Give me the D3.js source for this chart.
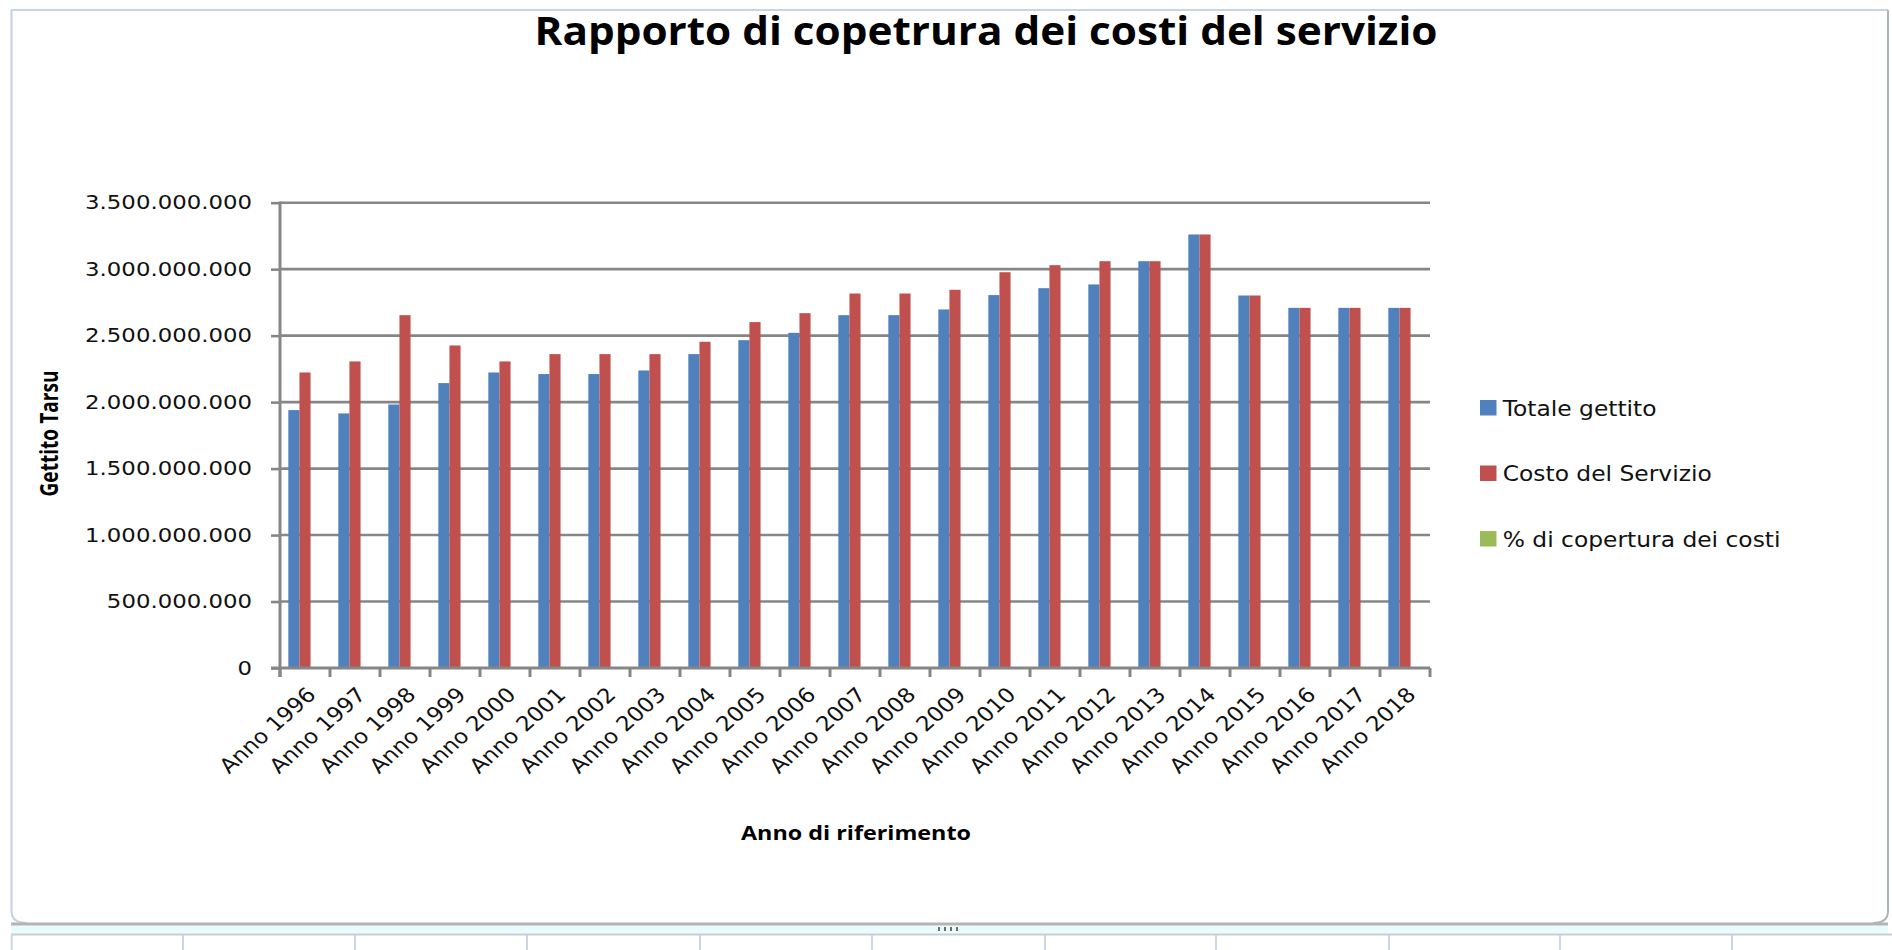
<!DOCTYPE html>
<html>
<head>
<meta charset="utf-8">
<script src="https://cdn.jsdelivr.net/npm/d3@7"></script>
<style>
  body { margin: 0; background: #fff; }
  svg { display: block; }
</style>
</head>
<body>
<div id="mainContainer"></div>
<script>
// anni di riferimento
var anni = ['Anno 1996', 'Anno 1997', 'Anno 1998', 'Anno 1999', 'Anno 2000', 'Anno 2001',
    'Anno 2002', 'Anno 2003', 'Anno 2004', 'Anno 2005', 'Anno 2006', 'Anno 2007',
    'Anno 2008', 'Anno 2009', 'Anno 2010', 'Anno 2011', 'Anno 2012', 'Anno 2013',
    'Anno 2014', 'Anno 2015', 'Anno 2016', 'Anno 2017', 'Anno 2018'];

var totaleGettito = [1940000000, 1915000000, 1982000000, 2143000000, 2223000000, 2211000000,
    2211000000, 2238000000, 2361000000, 2466000000, 2521000000, 2654000000,
    2654000000, 2697000000, 2805000000, 2857000000, 2885000000, 3060000000,
    3261000000, 2802000000, 2709000000, 2709000000, 2709000000];

var costoServizio = [2223000000, 2306000000, 2654000000, 2426000000, 2306000000, 2361000000,
    2361000000, 2361000000, 2454000000, 2602000000, 2669000000, 2817000000,
    2817000000, 2845000000, 2977000000, 3030000000, 3060000000, 3060000000,
    3261000000, 2802000000, 2709000000, 2709000000, 2709000000];

// percentuali: troppo piccole per vedersi sulla scala del grafico
var percCopertura = [87, 83, 75, 88, 96, 94, 94, 95, 96, 95, 94, 94,
    94, 95, 94, 94, 94, 100, 100, 100, 100, 100, 100];

var serie = ['Totale gettito', 'Costo del Servizio', '% di copertura dei costi'];
var colori = ['#4f81bd', '#c0504d', '#9bbb59'];
var yTicks = [0, 500000000, 1000000000, 1500000000, 2000000000, 2500000000, 3000000000, 3500000000];

var W = 1892, H = 950;
var pLeft = 280, pRight = 1430, pTop = 202.7, pBottom = 668;
var grigio = '#868686';

var svg = d3.select('#mainContainer').append('svg')
    .attr('width', W)
    .attr('height', H);

// allunga/stringe il testo fino alla larghezza voluta
function fitText(sel, w) {
    sel.attr('textLength', w).attr('lengthAdjust', 'spacingAndGlyphs');
}
function stretchText(sel, k) {
    sel.each(function() {
        var w = this.getComputedTextLength();
        d3.select(this).attr('textLength', w * k).attr('lengthAdjust', 'spacingAndGlyphs');
    });
}

// ---- cornice stile foglio excel ----
var frame = svg.append('g');
frame.append('line').attr('x1', 11).attr('x2', 1888).attr('y1', 10).attr('y2', 10)
    .attr('stroke', '#c9d3e2').attr('stroke-width', 2);
frame.append('path')
    .attr('d', 'M11.5,10 L11.5,911 Q11.5,923 27,923')
    .attr('fill', 'none').attr('stroke', '#c5d0e0').attr('stroke-width', 2);
frame.append('path')
    .attr('d', 'M1888,10 L1888,911 Q1888,923 1873,923')
    .attr('fill', 'none').attr('stroke', '#a9b7b7').attr('stroke-width', 2);
frame.append('rect').attr('x', 11).attr('y', 925.5).attr('width', 1877).attr('height', 8)
    .attr('fill', '#e9fbfb');
frame.append('line').attr('x1', 11).attr('x2', 1888).attr('y1', 924).attr('y2', 924)
    .attr('stroke', '#b4b4b4').attr('stroke-width', 3);
frame.append('line').attr('x1', 11).attr('x2', 1892).attr('y1', 934.5).attr('y2', 934.5)
    .attr('stroke', '#c6ced8').attr('stroke-width', 2);
var celle = [11.7, 183, 355, 527, 700, 872, 1045, 1216, 1389, 1560, 1732];
frame.selectAll('.cella').data(celle).enter().append('line')
    .attr('x1', function(d) { return d; }).attr('x2', function(d) { return d; })
    .attr('y1', 935).attr('y2', 950)
    .attr('stroke', '#cdd5e3').attr('stroke-width', 2);
frame.selectAll('.grip').data([0, 1, 2, 3]).enter().append('rect')
    .attr('x', function(d) { return 938 + d * 6; }).attr('y', 927)
    .attr('width', 2).attr('height', 4).attr('fill', '#6d6d6d');

// ---- scale ----
var xscale = d3.scaleBand().domain(anni).range([pLeft, pRight]).paddingInner(0).paddingOuter(0);
var xsub = d3.scaleBand().domain(serie).range([0, xscale.bandwidth()]).paddingInner(0).paddingOuter(0.75);
var yscale = d3.scaleLinear().domain([0, 3500000000]).range([pBottom, pTop]);

var itFormat = d3.formatLocale({ decimal: ',', thousands: '.', grouping: [3], currency: ['€', ''] }).format(',d');

var g = svg.append('g');

// griglia
g.selectAll('.grid').data(yTicks.slice(1)).enter().append('line')
    .attr('x1', pLeft).attr('x2', pRight)
    .attr('y1', function(d) { return yscale(d); })
    .attr('y2', function(d) { return yscale(d); })
    .attr('stroke', grigio).attr('stroke-width', 2.6);

// barre
var valori = [totaleGettito, costoServizio, percCopertura];
serie.forEach(function(s, si) {
    g.selectAll('.bar' + si).data(anni).enter().append('rect')
        .attr('x', function(d) { return xscale(d) + xsub(s); })
        .attr('y', function(d, i) { return yscale(valori[si][i]); })
        .attr('width', xsub.bandwidth())
        .attr('height', function(d, i) { return pBottom - yscale(valori[si][i]); })
        .attr('fill', colori[si]);
});

// asse y
var yAxis = g.append('g')
    .attr('transform', 'translate(' + pLeft + ',0)')
    .call(d3.axisLeft(yscale).tickValues(yTicks).tickSize(9).tickPadding(19).tickFormat(itFormat));
yAxis.select('.domain').remove();
yAxis.selectAll('.tick line').attr('stroke', grigio).attr('stroke-width', 2.6);
yAxis.selectAll('.tick text')
    .attr('fill', '#111')
    .attr('font-family', 'DejaVu Sans')
    .attr('font-size', '19.5px')
    .call(stretchText, 1.17);
g.append('line').attr('x1', pLeft).attr('x2', pLeft).attr('y1', pTop - 1.3).attr('y2', pBottom + 9)
    .attr('stroke', grigio).attr('stroke-width', 3);

// asse x
var bordi = anni.map(function(d) { return xscale(d); }).concat([pRight]);
g.append('line').attr('x1', pLeft - 9).attr('x2', pRight).attr('y1', pBottom).attr('y2', pBottom)
    .attr('stroke', grigio).attr('stroke-width', 3);
g.selectAll('.xtick').data(bordi).enter().append('line')
    .attr('x1', function(d) { return d; }).attr('x2', function(d) { return d; })
    .attr('y1', pBottom).attr('y2', pBottom + 9)
    .attr('stroke', grigio).attr('stroke-width', 3);
g.selectAll('.xlabel').data(anni).enter().append('text')
    .attr('transform', function(d) {
        return 'translate(' + (xscale(d) + xscale.bandwidth() / 2 + 12) + ',' + (pBottom + 28) + ') scale(1.12,1) rotate(-45)';
    })
    .attr('text-anchor', 'end')
    .attr('fill', '#111')
    .attr('font-family', 'DejaVu Sans')
    .attr('font-size', '20.5px')
    .text(function(d) { return d; });

// titoli
svg.append('text')
    .attr('x', 986).attr('y', 45)
    .attr('text-anchor', 'middle')
    .attr('font-family', 'Open Sans')
    .attr('font-weight', 'bold')
    .attr('font-size', '40px')
    .attr('fill', '#000')
    .text('Rapporto di copetrura dei costi del servizio')
    .call(fitText, 903);

svg.append('text')
    .attr('transform', 'translate(58,433.5) scale(1.25,1) rotate(-90)')
    .attr('text-anchor', 'middle')
    .attr('font-family', 'Open Sans')
    .attr('font-weight', 'bold')
    .attr('font-size', '20px')
    .attr('fill', '#000')
    .text('Gettito Tarsu')
    .call(fitText, 126);

svg.append('text')
    .attr('x', 856).attr('y', 840)
    .attr('text-anchor', 'middle')
    .attr('font-family', 'Open Sans')
    .attr('font-weight', 'bold')
    .attr('font-size', '19px')
    .attr('fill', '#000')
    .text('Anno di riferimento')
    .call(fitText, 230);

// legenda
var legend = svg.append('g').attr('transform', 'translate(1480,400)');
var leg = legend.selectAll('.leg').data(serie).enter().append('g')
    .attr('transform', function(d, i) { return 'translate(0,' + (i * 65.5) + ')'; });
leg.append('rect')
    .attr('width', 16.5).attr('height', 15.5)
    .attr('fill', function(d, i) { return colori[i]; });
leg.append('text')
    .attr('x', 22.7).attr('y', 15.5)
    .attr('font-family', 'DejaVu Sans')
    .attr('font-size', '20.5px')
    .attr('fill', '#111')
    .text(function(d) { return d; })
    .call(stretchText, 1.14);
</script>
</body>
</html>
